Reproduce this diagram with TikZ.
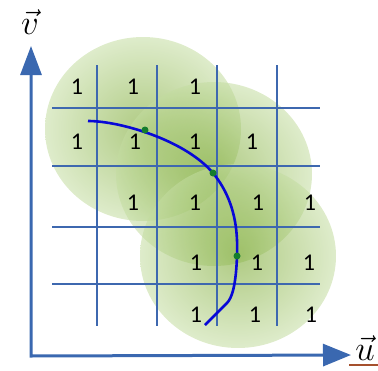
\documentclass[tikz,border=0pt]{standalone}
\usepackage{fontspec}
\setmainfont{Carlito}
\usetikzlibrary{arrows.meta}
\definecolor{axisblue}{RGB}{58,104,176}
\definecolor{gridblue}{RGB}{62,104,175}
\definecolor{curveblue}{RGB}{8,8,215}
\definecolor{dotgreen}{RGB}{20,125,45}
\definecolor{markbrown}{RGB}{165,80,45}
\definecolor{glowin}{RGB}{110,160,30}
\definecolor{glowout}{RGB}{195,220,160}
\pgfdeclareradialshading{glow}{\pgfpointorigin}{color(0bp)=(glowin); color(25bp)=(glowout); color(50bp)=(glowout)}
\begin{document}
\begin{tikzpicture}[x=1pt,y=-1pt,
  one/.style={font=\fontsize{24}{24}\selectfont, inner sep=0pt},
  gridline/.style={draw=gridblue, line width=1.1pt},
  axis/.style={draw=axisblue, line width=3pt, line join=miter},
  blob/.style={shading=glow, fill opacity=0.55},
  dot/.style={circle, fill=dotgreen, inner sep=0pt, minimum size=7pt},
  veclabel/.style={font=\Huge, inner sep=0pt, scale=1.4}]
\useasboundingbox (0,0) rectangle (378,370);
% circles
\foreach \x/\y in {143/129, 214/174, 238/256}
  \shade[blob] (\x,\y) ellipse [x radius=98, y radius=92];
% grid
\foreach \y in {108,166,227,284} \draw[gridline] (52,\y) -- (320,\y);
\foreach \x in {97,157,217,277} \draw[gridline] (\x,65) -- (\x,326);
% ones
\foreach \x/\y [count=\i] in {77/87,133/87,195/87, 77/142,135/142,195/142,252/142,
   133/203,195/203,258/203,310/203, 196/263,257/263,309/263, 196/315,255/315,311/315}
  \node[one] (one\i) at (\x,\y) {1};
% axes
\coordinate (O) at (31,356);
\coordinate (V) at (31,46);
\coordinate (U) at (351,355);
\draw[axis, {Triangle[length=29pt,width=21pt]}-{Triangle[length=28pt,width=22pt]}] (V) -- (O) -- (U);
\node[veclabel] (vl) at (30,22) {$\vec{v}$};
\node[veclabel] (ul) at (365,348) {$\vec{u}$};
\coordinate (b1) at (349,365);
\coordinate (b2) at (378,365);
\draw[markbrown, line width=1.2pt] (b1) -- (b2);
% curve
\coordinate (p0) at (88,121);
\coordinate (p1) at (213,173);
\coordinate (p2) at (237,256);
\coordinate (p3) at (227,303);
\coordinate (p4) at (205,325);
\draw[curveblue, line width=2.6pt] (p0) .. controls (120,121) and (185,140) .. (p1)
   .. controls (235,200) and (238,230) .. (p2)
   .. controls (236,285) and (232,298) .. (p3) -- (p4);
\node[dot] (d1) at (145,130) {};
\node[dot] (d2) at (p1) {};
\node[dot] (d3) at (p2) {};
\end{tikzpicture}
\end{document}
